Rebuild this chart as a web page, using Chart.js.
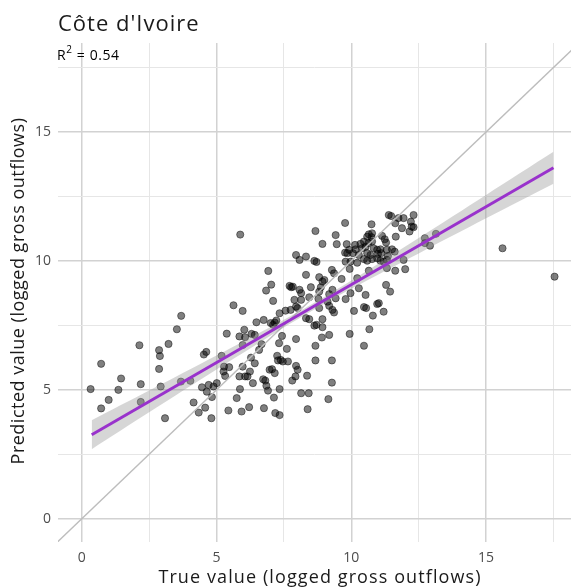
<!DOCTYPE html>
<html>
<head>
<meta charset="utf-8">
<script src="https://cdn.jsdelivr.net/npm/chart.js@4.4.1/dist/chart.umd.min.js"></script>
<style>
  html, body { margin: 0; padding: 0; background: #ffffff; }
  #wrap { width: 576px; height: 588px; position: relative; }
</style>
</head>
<body>
<div id="wrap"><canvas id="c" width="576" height="588"></canvas></div>
<script>
// ---------------- data ----------------
const chartTitle = "Côte d'Ivoire";
const r2Text = "0.54";
const xAxisTitle = "True value (logged gross outflows)";
const yAxisTitle = "Predicted value (logged gross outflows)";

const xTicks = [0, 2.5, 5, 7.5, 10, 12.5, 15, 17.5];
const yTicks = [0, 2.5, 5, 7.5, 10, 12.5, 15, 17.5];
const tickLabels = ["0", "", "5", "", "10", "", "15", ""];

// observed (true) values
const trueVals = [
  3.69,3.53,2.14,3.22,2.87,2.90,0.72,2.87,1.46,2.19,0.33,1.36,2.93,3.68,4.03,4.62,4.53,1.00,0.72,2.19,3.09,4.15,4.46,4.71,4.64,4.89,4.83,4.58,4.34,4.81,5.01,
  5.88,6.92,7.03,6.84,7.71,7.77,7.10,5.63,5.97,7.34,7.56,7.75,6.48,6.75,7.22,7.16,7.10,7.01,5.38,6.03,5.85,6.06,6.30,6.42,7.43,5.97,6.67,6.58,7.32,7.61,5.19,6.28,6.42,7.25,7.28,7.38,7.46,7.65,5.28,5.47,5.97,5.26,5.32,5.85,6.06,6.15,6.24,6.97,7.06,7.16,6.73,6.81,6.35,6.85,6.91,7.34,7.81,5.87,5.75,7.13,5.44,5.93,6.21,6.76,7.18,7.34,
  9.77,8.67,9.42,8.93,9.46,9.83,10.14,10.16,10.34,9.92,9.77,9.85,10.06,10.28,7.95,8.08,8.32,8.63,8.71,9.79,9.97,10.22,9.94,9.28,9.36,8.32,8.81,8.93,9.00,9.64,10.22,7.83,8.50,8.08,8.14,8.87,8.81,9.30,9.18,9.42,9.97,9.79,10.28,7.89,8.14,8.44,8.78,9.12,9.18,7.95,8.01,8.81,9.30,9.36,10.10,8.32,8.44,8.93,8.63,8.71,8.93,9.18,8.91,7.95,9.94,8.67,8.67,9.28,7.95,8.01,7.93,8.36,9.28,8.14,8.42,9.15,8.38,
  11.39,11.48,10.75,11.63,10.65,10.77,10.59,10.75,11.14,11.24,11.29,11.65,10.47,10.63,10.77,10.40,10.53,10.83,10.96,11.08,11.32,11.51,11.61,10.59,10.71,10.99,11.11,11.36,10.47,10.59,10.77,10.96,11.08,11.20,11.32,11.32,11.63,10.65,11.29,11.44,10.53,10.96,11.02,10.47,10.55,11.20,10.80,10.67,10.47,
  12.31,11.94,11.75,12.21,12.24,12.31,12.16,11.88,12.73,13.14,12.92,12.73,11.94,12.00,15.61,17.54
];
// predicted values
const predVals = [
  7.87,7.35,6.73,6.78,6.54,6.31,6.01,5.81,5.44,5.22,5.03,5.00,5.13,5.32,5.35,6.47,6.37,4.61,4.28,4.53,3.90,4.51,5.10,5.19,4.93,5.13,4.72,4.31,4.12,3.90,5.26,
  11.02,9.61,9.08,8.85,9.03,8.98,8.45,8.28,8.06,7.97,8.07,8.10,7.62,7.71,7.69,7.61,7.52,7.59,7.18,7.33,7.07,7.04,7.17,7.13,7.09,6.74,6.77,6.55,6.81,6.59,6.32,6.25,6.03,6.32,6.14,6.16,6.10,6.10,5.90,5.88,5.90,5.71,5.54,5.52,5.52,5.52,5.71,5.78,5.80,5.65,5.41,5.36,5.26,5.16,4.97,5.03,5.36,5.03,4.68,4.70,4.20,4.16,4.33,4.29,4.10,4.02,
  11.47,11.16,11.00,10.66,10.65,10.65,10.62,10.45,10.66,10.43,10.32,10.30,10.30,10.23,10.23,10.04,10.17,10.00,9.96,9.97,9.97,9.93,9.69,9.65,9.52,9.46,9.37,9.20,9.26,9.30,9.33,9.00,8.98,8.88,8.75,8.98,8.81,8.88,8.71,8.55,8.75,8.52,8.94,8.49,8.49,8.59,8.53,8.42,8.26,8.23,8.17,8.17,8.10,8.00,8.06,7.78,7.74,7.74,7.49,7.52,7.43,7.13,7.03,6.97,7.17,6.71,6.14,6.14,5.93,5.78,5.52,5.55,5.28,4.87,4.87,4.64,4.25,
  11.78,11.74,11.42,11.46,11.03,11.07,10.94,10.92,10.97,10.84,10.71,10.94,10.75,10.69,10.75,10.49,10.55,10.49,10.43,10.45,10.43,10.45,10.36,10.30,10.23,10.27,10.30,10.19,10.07,10.01,10.07,10.10,10.01,9.97,10.04,9.72,9.62,9.62,9.07,8.81,8.68,8.33,8.36,8.21,8.17,8.03,7.88,7.35,6.71,
  11.78,11.66,11.66,11.52,11.33,11.31,11.14,11.27,10.88,11.05,10.59,10.69,10.04,9.68,10.49,9.39
];

// fitted line
const fitX = [0.37, 17.5];
const fitY = [3.26, 13.61];
// confidence band
const bandX     = [0.37, 2.5, 5, 7.5, 8.5, 10, 12.5, 15, 17.5];
const bandLower = [2.70, 4.13, 5.79, 7.42, 8.04, 8.92, 10.29, 11.65, 12.99];
const bandUpper = [3.82, 4.97, 6.33, 7.72, 8.30, 9.24, 10.89, 12.56, 14.23];
// identity reference line
const diagX = [-2, 20];
const diagY = [-2, 20];

// ---------------- build ----------------
const FONT = "'Open Sans', 'DejaVu Sans', sans-serif";
const pts = trueVals.map((v, i) => ({ x: v, y: predVals[i] }));
const fitPts = fitX.map((v, i) => ({ x: v, y: fitY[i] }));
const lowPts = bandX.map((v, i) => ({ x: v, y: bandLower[i] }));
const upPts = bandX.map((v, i) => ({ x: v, y: bandUpper[i] }));
const diagPts = diagX.map((v, i) => ({ x: v, y: diagY[i] }));

const PANEL = { left: 58, top: 43, right: 576, bottom: 542 };

const textPlugin = {
  id: 'texts',
  afterDraw(chart) {
    const ctx = chart.ctx;
    ctx.save();
    ctx.textAlign = 'left';
    ctx.textBaseline = 'alphabetic';
    // title
    ctx.fillStyle = '#1a1a1a';
    ctx.font = '22px ' + FONT;
    ctx.letterSpacing = '1px';
    ctx.fillText(chartTitle, 58, 31);
    // R^2 annotation
    ctx.letterSpacing = '0.6px';
    ctx.font = '14px ' + FONT;
    ctx.fillStyle = '#000000';
    let x = 57;
    ctx.fillText('R', x, 60);
    x += ctx.measureText('R').width;
    ctx.font = '10px ' + FONT;
    ctx.fillText('2', x, 53);
    x += ctx.measureText('2').width;
    ctx.font = '14px ' + FONT;
    ctx.fillText(' = ' + r2Text, x, 60);
    // x axis title
    ctx.font = '18px ' + FONT;
    ctx.fillStyle = '#1a1a1a';
    ctx.textAlign = 'center';
    ctx.letterSpacing = '1.1px';
    ctx.fillText(xAxisTitle, 320, 583);
    // y axis title
    ctx.letterSpacing = '0.5px';
    ctx.translate(24, 291);
    ctx.rotate(-Math.PI / 2);
    ctx.fillText(yAxisTitle, 0, 0);
    ctx.restore();
  }
};

const gridColor = (ctx) => (ctx.tick && ctx.tick.value % 5 === 0) ? '#d2d2d2' : '#e6e6e6';
const gridWidth = (ctx) => (ctx.tick && ctx.tick.value % 5 === 0) ? 1.5 : 1;

new Chart(document.getElementById('c'), {
  type: 'scatter',
  data: {
    datasets: [
      {
        label: 'points', data: pts, order: 5,
        pointRadius: 3.6, pointBorderWidth: 1,
        backgroundColor: 'rgba(0,0,0,0.5)', borderColor: 'rgba(0,0,0,0.45)'
      },
      {
        label: 'identity', data: diagPts, order: 4, showLine: true,
        pointRadius: 0, borderColor: '#bdbdbd', borderWidth: 1.4, fill: false
      },
      {
        label: 'lower', data: lowPts, order: 3, showLine: true,
        pointRadius: 0, borderWidth: 0, borderColor: 'rgba(0,0,0,0)', fill: false, tension: 0.3
      },
      {
        label: 'upper', data: upPts, order: 2, showLine: true,
        pointRadius: 0, borderWidth: 0, borderColor: 'rgba(0,0,0,0)', tension: 0.3,
        fill: 2, backgroundColor: 'rgba(153,153,153,0.4)'
      },
      {
        label: 'fit', data: fitPts, order: 0, showLine: true,
        pointRadius: 0, borderColor: '#9932CC', borderWidth: 3, fill: false
      }
    ]
  },
  options: {
    responsive: false,
    animation: false,
    events: [],
    layout: { padding: { top: PANEL.top, left: 0, right: 0, bottom: 0 } },
    plugins: { legend: { display: false }, tooltip: { enabled: false }, title: { display: false } },
    scales: {
      x: {
        type: 'linear', min: -0.88, max: 18.15,
        afterBuildTicks(axis) { axis.ticks = xTicks.map(v => ({ value: v })); },
        afterFit(axis) { axis.height = 588 - PANEL.bottom; },
        border: { display: false },
        grid: { drawTicks: false, color: gridColor, lineWidth: gridWidth },
        ticks: {
          padding: 8, color: '#4d4d4d', font: { family: FONT, size: 14 },
          maxRotation: 0, autoSkip: false,
          callback: (v) => tickLabels[xTicks.indexOf(v)] ?? ''
        }
      },
      y: {
        type: 'linear', min: -0.9, max: 18.45,
        afterBuildTicks(axis) { axis.ticks = yTicks.map(v => ({ value: v })); },
        afterFit(axis) { axis.width = PANEL.left; },
        border: { display: false },
        grid: { drawTicks: false, color: gridColor, lineWidth: gridWidth },
        ticks: {
          padding: 7, color: '#4d4d4d', font: { family: FONT, size: 14 },
          autoSkip: false,
          callback: (v) => tickLabels[yTicks.indexOf(v)] ?? ''
        }
      }
    }
  },
  plugins: [textPlugin]
});
</script>
</body>
</html>
